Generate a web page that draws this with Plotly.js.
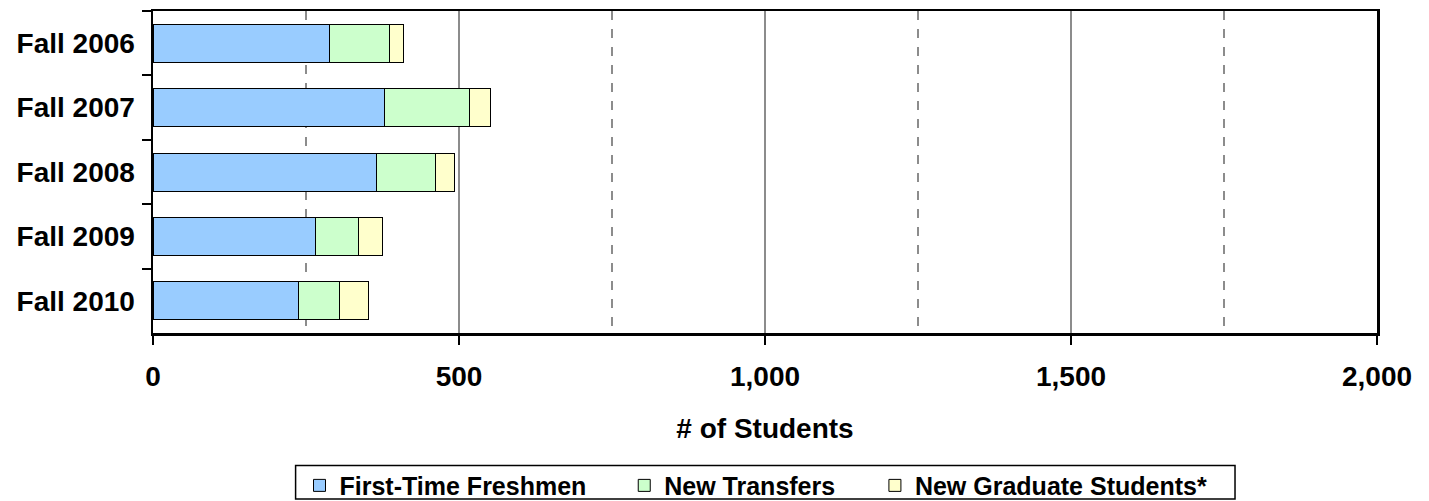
<!DOCTYPE html>
<html>
<head>
<meta charset="utf-8">
<script src="https://cdn.plot.ly/plotly-3.0.1.min.js"></script>
<style>
html,body{margin:0;padding:0;background:#fff;}
#chart{width:1429px;height:501px;}
</style>
</head>
<body>
<div id="chart"></div>
<script>
const terms = ["Fall 2006", "Fall 2007", "Fall 2008", "Fall 2009", "Fall 2010"];
const freshmen = [289, 378, 365, 265, 237];
const transfers = [98, 139, 96, 71, 67];
const graduates = [23, 34, 32, 39, 48];
const seriesNames = ["First-Time Freshmen", "New Transfers", "New Graduate Students*"];
const xTickVals = [0, 500, 1000, 1500, 2000];
const xTickText = ["0", "500", "1,000", "1,500", "2,000"];

const FONT = "Arial, 'Liberation Sans', sans-serif";
const colors = ["#99CCFF", "#CCFFCC", "#FFFFCC"];
const values = [freshmen, transfers, graduates];
const legends = ["legend", "legend2", "legend3"];

const traces = values.map((v, i) => ({
  type: "bar",
  orientation: "h",
  name: seriesNames[i],
  x: v,
  y: terms,
  legend: legends[i],
  marker: {color: colors[i], line: {color: "#000", width: 1}},
  hoverinfo: "x+name"
}));

const legendBase = {
  orientation: "h",
  yanchor: "middle",
  y: -0.474,
  xanchor: "left",
  bgcolor: "rgba(0,0,0,0)",
  borderwidth: 0,
  font: {family: FONT, size: 25, color: "#000", weight: 700},
  itemwidth: 30
};

const layout = {
  width: 1429,
  height: 501,
  margin: {l: 153, r: 52, t: 11, b: 168, pad: 0, autoexpand: false},
  paper_bgcolor: "#fff",
  plot_bgcolor: "#fff",
  barmode: "stack",
  bargap: 0.41,
  showlegend: true,
  font: {family: FONT, color: "#000"},
  xaxis: {
    range: [0, 2000],
    tickvals: xTickVals,
    ticktext: xTickText,
    ticks: "outside",
    ticklen: 9,
    tickwidth: 2,
    tickcolor: "#000",
    ticklabelstandoff: 8,
    showline: true,
    linecolor: "#000",
    linewidth: 2.5,
    mirror: true,
    showgrid: true,
    gridcolor: "#8c8c8c",
    gridwidth: 1.5,
    zeroline: false,
    automargin: false,
    minor: {dtick: 250, tick0: 0, showgrid: true, griddash: "dash", gridcolor: "#8c8c8c", gridwidth: 1.5, ticks: ""},
    tickfont: {family: FONT, size: 28, color: "#000", weight: 700},
    title: {text: "# of Students", font: {family: FONT, size: 28, color: "#000", weight: 700}, standoff: 28}
  },
  yaxis: {
    type: "category",
    autorange: "reversed",
    ticks: "outside",
    tickson: "boundaries",
    ticklen: 9,
    tickwidth: 2,
    tickcolor: "#000",
    ticklabelstandoff: 10,
    showline: true,
    linecolor: "#000",
    linewidth: 2.5,
    mirror: true,
    showgrid: false,
    zeroline: false,
    automargin: false,
    tickfont: {family: FONT, size: 28, color: "#000", weight: 700}
  },
  legend: Object.assign({}, legendBase, {x: 0.1197}),
  legend2: Object.assign({}, legendBase, {x: 0.385}),
  legend3: Object.assign({}, legendBase, {x: 0.5898}),
  shapes: [{
    type: "rect", xref: "paper", yref: "paper",
    x0: 0.1165, x1: 0.884, y0: -0.5157, y1: -0.4117,
    line: {color: "#000", width: 1.5}, fillcolor: "rgba(0,0,0,0)"
  }]
};

Plotly.newPlot("chart", traces, layout, {displayModeBar: false, staticPlot: true});
</script>
</body>
</html>
